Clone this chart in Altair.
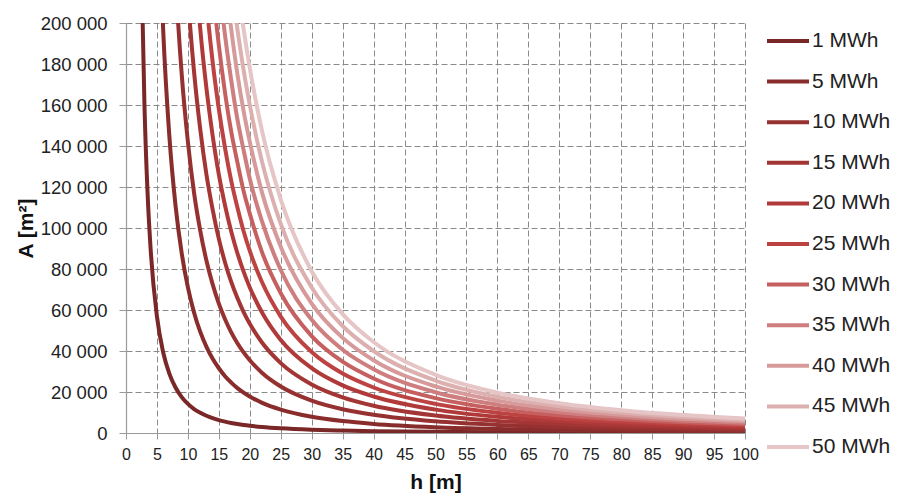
import altair as alt
import pandas as pd

N = None
# h [m] sample positions
h_m = [2, 2.5, 3, 3.5, 4, 5, 6, 7, 8, 9, 10, 11, 12, 13, 14, 15, 16, 17, 18, 19,
       20, 22, 25, 30, 35, 40, 50, 60, 70, 80, 90, 100]

area_1 = [355000, 227000, 158000, 116000, 88700, 56800, 39400, 29000, 22200, 17500,
          14200, 11700, 9860, 8400, 7250, 6310, 5550, 4910, 4380, 3930,
          3550, 2930, 2270, 1580, 1160, 890, 570, 390, 290, 220, 175, 140]
area_5 = [N, N, N, 580000, 444000, 284000, 197000, 145000, 111000, 87700,
          71000, 58700, 49300, 42000, 36200, 31600, 27700, 24600, 21900, 19700,
          17800, 14700, 11400, 7890, 5800, 4440, 2840, 1970, 1450, 1110, 875, 710]
area_10 = [N, N, N, N, N, 568000, 394000, 290000, 222000, 175000,
           142000, 117000, 98600, 84000, 72500, 63100, 55500, 49100, 43800, 39300,
           35500, 29300, 22700, 15800, 11600, 8880, 5680, 3940, 2900, 2220, 1750, 1420]
area_15 = [N, N, N, N, N, N, 592000, 435000, 333000, 263000,
           213000, 176000, 148000, 126000, 109000, 94700, 83200, 73700, 65800, 59000,
           53300, 44000, 34100, 23700, 17400, 13300, 8520, 5910, 4350, 3330, 2630, 2130]
area_20 = [N, N, N, N, N, N, N, 580000, 444000, 351000,
           284000, 235000, 197000, 168000, 145000, 126000, 111000, 98300, 87700, 78700,
           71000, 58700, 45400, 31600, 23200, 17800, 11400, 7880, 5800, 4440, 3500, 2840]
area_25 = [N, N, N, N, N, N, N, N, 555000, 438000,
           355000, 294000, 247000, 210000, 181000, 158000, 139000, 123000, 110000, 98400,
           88800, 73400, 56800, 39500, 29000, 22200, 14200, 9860, 7250, 5550, 4380, 3550]
area_30 = [N, N, N, N, N, N, N, N, N, 526000,
           426000, 352000, 296000, 252000, 217000, 189000, 166000, 147000, 132000, 118000,
           107000, 88000, 68200, 47300, 34800, 26600, 17000, 11800, 8700, 6660, 5250, 4260]
area_35 = [N, N, N, N, N, N, N, N, N, N,
           497000, 411000, 345000, 294000, 254000, 221000, 194000, 172000, 153000, 138000,
           124000, 103000, 79500, 55200, 40600, 31100, 19900, 13800, 10100, 7770, 6130, 4970]
area_40 = [N, N, N, N, N, N, N, N, N, N,
           568000, 470000, 394000, 336000, 290000, 252000, 222000, 197000, 175000, 157000,
           142000, 117000, 90900, 63100, 46400, 35500, 22700, 15800, 11600, 8880, 7000, 5680]
area_45 = [N, N, N, N, N, N, N, N, N, N,
           N, 528000, 444000, 378000, 326000, 284000, 250000, 221000, 197000, 177000,
           160000, 132000, 102000, 71000, 52200, 40000, 25600, 17700, 13100, 9990, 7880, 6390]
area_50 = [N, N, N, N, N, N, N, N, N, N,
           N, 587000, 493000, 420000, 362000, 316000, 277000, 246000, 219000, 197000,
           178000, 147000, 114000, 78900, 58000, 44400, 28400, 19700, 14500, 11100, 8750, 7100]

series_names = ["1 MWh", "5 MWh", "10 MWh", "15 MWh", "20 MWh", "25 MWh",
                "30 MWh", "35 MWh", "40 MWh", "45 MWh", "50 MWh"]
series_values = [area_1, area_5, area_10, area_15, area_20, area_25,
                 area_30, area_35, area_40, area_45, area_50]
series_colors = ["#7a2727", "#892c2c", "#963131", "#a33535", "#b03a3a", "#bd4242",
                 "#c66060", "#ce7e7e", "#d69a9a", "#ddb0b0", "#e5c5c5"]

x_ticks = [0, 5, 10, 15, 20, 25, 30, 35, 40, 45, 50, 55, 60, 65, 70, 75, 80, 85, 90, 95, 100]
y_ticks = [0, 20000, 40000, 60000, 80000, 100000, 120000, 140000, 160000, 180000, 200000]

rows = []
for name, vals in zip(series_names, series_values):
    for h, a in zip(h_m, vals):
        if a is not None:
            rows.append({"h": h, "A": a, "E": name})
df = pd.DataFrame(rows)

FONT = "Liberation Sans"

chart = alt.Chart(df).mark_line(
    clip=True, interpolate="monotone", strokeWidth=4
).encode(
    x=alt.X("h:Q",
            scale=alt.Scale(domain=[0, 100], nice=False, zero=True),
            axis=alt.Axis(values=x_ticks, title="h [m]", format="d",
                          labelFontSize=16, tickSize=6, labelPadding=7,
                          labelOverlap=False, labelFlush=False,
                          titleFontSize=21, titlePadding=9)),
    y=alt.Y("A:Q",
            scale=alt.Scale(domain=[0, 200000], nice=False),
            axis=alt.Axis(values=y_ticks, title="A [m²]",
                          labelExpr="datum.value == 0 ? '0' : format(datum.value / 1000, 'd') + ' 000'",
                          labelFontSize=18.5, tickSize=7, labelPadding=12,
                          labelOverlap=False,
                          titleFontSize=21, titlePadding=4)),
    color=alt.Color("E:N", scale=alt.Scale(domain=series_names, range=series_colors),
                    legend=alt.Legend(title=None, orient="none", legendX=639, legendY=-5,
                                      symbolType="stroke", symbolSize=1764,
                                      symbolStrokeWidth=4, labelFontSize=21,
                                      labelFont=FONT, labelColor="#222222",
                                      labelOffset=1, rowPadding=7.6, padding=0)),
).properties(
    width=619, height=410,
    autosize=alt.AutoSizeParams(type="none"),
    padding={"left": 118, "top": 15, "right": 147, "bottom": 62},
).configure_view(
    stroke=None
).configure_axis(
    labelFont=FONT, titleFont=FONT, labelColor="#222222", titleColor="#111111",
    titleFontWeight="bold",
    domainColor="#9a9a9a", tickColor="#9a9a9a", domainWidth=1.2,
    gridColor="#8a8a8a", gridDash=[6, 3], gridWidth=1, gridOpacity=1,
)

chart.save("out.html", embed_options={"renderer": "svg", "actions": False})
